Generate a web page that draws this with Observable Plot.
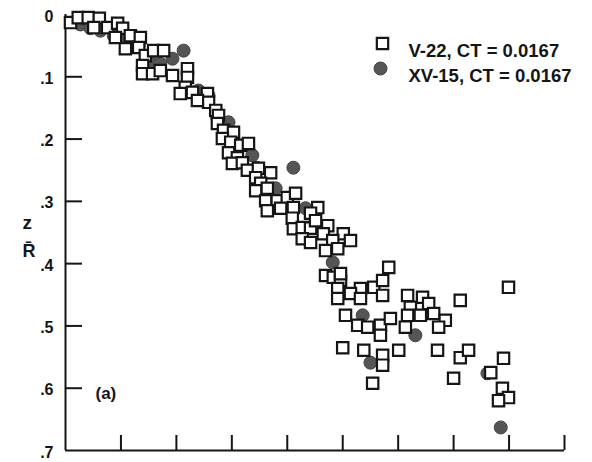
<!DOCTYPE html>
<html><head><meta charset="utf-8">
<script src="https://cdn.jsdelivr.net/npm/d3@7"></script>
<script src="https://cdn.jsdelivr.net/npm/@observablehq/plot@0.6"></script>
<style>body{margin:0;background:#fff;} svg{display:block;}</style>
</head><body><div id="chart"></div>
<script>
// V-22 (open squares)
const v22X = [0.09,0.23,0.41,0.61,0.51,0.76,0.94,1.03,0.90,1.17,1.35,1.08,1.32,1.44,1.59,1.77,1.39,1.39,1.57,1.71,
  1.93,2.20,2.20,2.16,2.29,2.56,2.58,2.38,2.71,2.07,2.76,2.74,2.85,3.03,2.83,2.98,3.16,3.30,2.94,3.10,
  3.01,3.19,3.28,3.48,3.43,3.70,3.52,3.43,3.64,3.61,3.82,4.00,4.15,3.88,4.11,4.55,4.42,3.64,4.09,4.11,
  4.27,4.42,4.51,4.73,4.65,5.01,5.14,4.27,4.42,4.82,4.69,4.91,4.69,4.83,4.96,4.91,5.32,5.56,5.72,5.83,
  5.72,4.91,5.14,5.32,6.17,6.44,4.96,5.05,5.27,5.45,5.68,5.86,5.68,6.22,6.55,6.17,6.40,6.13,6.64,6.85,
  6.73,7.12,7.99,5.00,5.38,5.72,5.72,6.01,6.71,7.12,7.27,5.54,7.00,7.90,7.67,7.88,7.99,7.81];
const v22Y = [0.013,0.005,0.005,0.006,0.021,0.021,0.014,0.022,0.037,0.034,0.037,0.055,0.053,0.066,0.058,0.058,0.082,0.095,0.095,0.090,
  0.098,0.087,0.101,0.117,0.125,0.127,0.141,0.138,0.154,0.127,0.162,0.175,0.186,0.189,0.199,0.205,0.210,0.207,0.222,0.230,
  0.239,0.238,0.250,0.247,0.262,0.254,0.271,0.283,0.279,0.299,0.299,0.294,0.287,0.311,0.310,0.310,0.319,0.315,0.327,0.344,
  0.342,0.343,0.331,0.339,0.352,0.352,0.363,0.360,0.366,0.363,0.379,0.376,0.419,0.422,0.427,0.440,0.440,0.438,0.427,0.406,
  0.451,0.456,0.448,0.456,0.451,0.454,0.416,0.483,0.499,0.502,0.499,0.488,0.515,0.470,0.464,0.483,0.483,0.502,0.480,0.491,
  0.502,0.459,0.438,0.535,0.539,0.547,0.563,0.539,0.539,0.551,0.539,0.592,0.584,0.552,0.575,0.600,0.615,0.620];
// XV-15 (filled circles)
const xv15X = [0.27,0.45,0.63,0.87,1.08,1.32,1.53,1.71,1.93,2.13,2.40,2.58,2.74,2.94,3.25,3.37,3.45,3.79,4.11,4.33,
  4.82,5.36,5.50,6.31,7.61,7.85];
const xv15Y = [0.016,0.022,0.026,0.034,0.042,0.050,0.074,0.079,0.071,0.058,0.122,0.130,0.167,0.173,0.210,0.226,0.246,0.279,0.246,0.311,
  0.398,0.483,0.559,0.515,0.576,0.663];

const yTicks = [0, 0.1, 0.2, 0.3, 0.4, 0.5, 0.6, 0.7];
const xTicks = [1, 2, 3, 4, 5, 6, 7, 8, 9];
const legendLabels = ["V-22, CT = 0.0167", "XV-15, CT = 0.0167"];
const yLabelTop = "z";
const yLabelBottom = "R\u0304";
const panelLabel = "(a)";

const v22 = v22X.map((x, i) => ({x, y: v22Y[i]}));
const xv15 = xv15X.map((x, i) => ({x, y: xv15Y[i]}));

const font = "'Liberation Sans', Arial, Helvetica, sans-serif";
const ink = "#151515";

const chart = Plot.plot({
  width: 592, height: 462,
  marginTop: 14, marginBottom: 12, marginLeft: 65, marginRight: 28,
  style: {fontFamily: font, fontWeight: "bold", color: ink, background: "#fff", overflow: "visible"},
  x: {domain: [0, 9]},
  y: {domain: [0, 0.7], reverse: true},
  marks: [
    Plot.axisX({ticks: xTicks, tickSize: -15, tickFormat: () => "", strokeWidth: 2, stroke: ink, label: null}),
    Plot.axisY({ticks: yTicks.slice(1, -1), tickSize: -17, tickFormat: () => "", strokeWidth: 2, stroke: ink, label: null}),
    Plot.axisY({ticks: yTicks, tickSize: 0, tickPadding: 12, fontSize: 16, fontWeight: "bold", dy: 2, label: null,
      tickFormat: d => d === 0 ? "0" : d3.format(".1f")(d).replace(/^0/, "")}),
    Plot.ruleX([0], {stroke: ink, strokeWidth: 2}),
    Plot.ruleY([0.7], {stroke: ink, strokeWidth: 2}),
    Plot.dot(xv15, {x: "x", y: "y", r: 6.5, fill: "#555", stroke: "#444", strokeWidth: 1}),
    Plot.dot(v22, {x: "x", y: "y", symbol: "square", r: 6.4, fill: "white", stroke: ink, strokeWidth: 2.2}),
    // legend
    Plot.dot([legendLabels[0]], {frameAnchor: "top-left", dx: 317, dy: 29, symbol: "square", r: 6.4, fill: "white", stroke: ink, strokeWidth: 2.2}),
    Plot.dot([legendLabels[1]], {frameAnchor: "top-left", dx: 315, dy: 54, r: 6.5, fill: "#555", stroke: "#444", strokeWidth: 1}),
    Plot.text([legendLabels[0]], {text: d => d, frameAnchor: "top-left", dx: 343, dy: 29, textAnchor: "start", fontSize: 18.5, fontWeight: "bold", fill: ink}),
    Plot.text([legendLabels[1]], {text: d => d, frameAnchor: "top-left", dx: 343, dy: 54, textAnchor: "start", fontSize: 18.5, fontWeight: "bold", fill: ink}),
    // axis label z / R
    Plot.text([yLabelTop], {text: d => d, frameAnchor: "top-left", dx: -43, dy: 201, fontSize: 19, fontWeight: "bold", fill: ink}),
    Plot.text([yLabelBottom], {text: d => d, frameAnchor: "top-left", dx: -43, dy: 230, fontSize: 18, fontWeight: "bold", fill: ink}),
    // panel label
    Plot.text([panelLabel], {text: d => d, frameAnchor: "top-left", dx: 30, dy: 372, textAnchor: "start", fontSize: 17, fontWeight: "bold", fill: ink})
  ]
});
document.getElementById("chart").appendChild(chart);
</script>
</body></html>
